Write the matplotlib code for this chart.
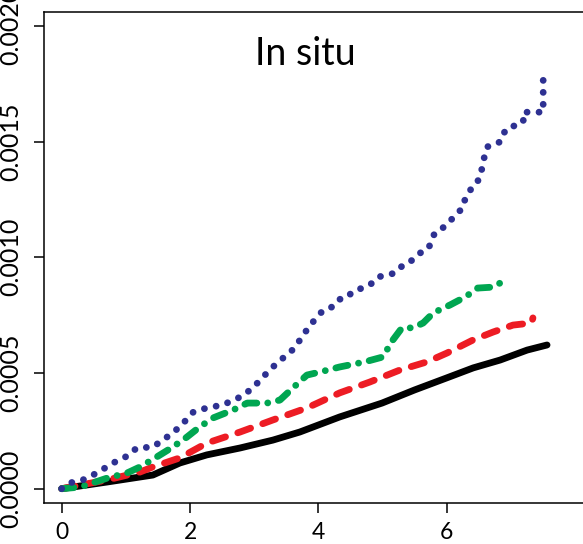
import numpy as np
import matplotlib
matplotlib.use("Agg")
from matplotlib import pyplot as plt

# Data (y values in units of 1e-4)
black_x = [0, 0.71, 1.42, 1.84, 2.26, 2.78, 3.29, 3.71, 4.33, 4.99, 5.50, 5.99, 6.41, 6.83, 7.25, 7.56]
black_y = [0, 0.29, 0.59, 1.11, 1.46, 1.76, 2.10, 2.45, 3.10, 3.70, 4.27, 4.78, 5.22, 5.56, 5.99, 6.21]

red_x = [0, 0.71, 1.22, 1.42, 1.84, 2.26, 2.78, 3.29, 3.82, 4.33, 4.80, 5.27, 5.69, 6.00,
         6.41, 6.72, 7.03, 7.32, 7.34]
red_y = [0, 0.38, 0.72, 0.94, 1.33, 1.97, 2.45, 2.97, 3.49, 4.14, 4.61, 5.13, 5.48, 5.86,
         6.43, 6.77, 7.07, 7.16, 7.38]

green_x = [0, 0.29, 0.71, 1.02, 1.22, 1.48, 1.73, 1.95, 2.15, 2.36, 2.67, 2.89, 3.20, 3.40,
           3.60, 3.82, 4.02, 4.33, 4.72, 5.00, 5.16, 5.30, 5.47, 5.63, 5.79, 6.05, 6.20,
           6.33, 6.48, 6.72, 6.83]
green_y = [0, 0.07, 0.46, 0.68, 0.94, 1.37, 1.80, 2.23, 2.67, 3.06, 3.40, 3.70, 3.70, 3.83,
           4.35, 4.91, 5.04, 5.26, 5.48, 5.69, 6.43, 6.95, 6.95, 7.16, 7.60, 7.94, 8.16,
           8.37, 8.67, 8.71, 8.89]

blue_x = [0, 0.13, 0.33, 0.55, 0.80, 1.02, 1.17, 1.42, 1.64, 1.84, 2.05, 2.26, 2.51, 2.78,
          2.98, 3.09, 3.29, 3.45, 3.63, 3.76, 3.90, 4.05, 4.18, 4.30, 4.46, 4.52, 4.68,
          4.80, 4.93, 5.08, 5.19, 5.35, 5.47, 5.58, 5.71, 5.81, 5.89, 6.00, 6.08, 6.16,
          6.24, 6.28, 6.41, 6.47, 6.52, 6.55, 6.59, 6.63, 6.72, 6.83, 6.87, 6.94, 7.09,
          7.19, 7.19, 7.50, 7.50]
blue_y = [0, 0.25, 0.38, 0.68, 1.11, 1.41, 1.76, 1.80, 2.23, 2.67, 3.31, 3.49, 3.62, 3.96,
          4.35, 4.70, 5.26, 5.65, 6.08, 6.64, 7.16, 7.64, 7.77, 8.16, 8.28, 8.50, 8.67,
          8.80, 9.15, 9.24, 9.32, 9.75, 9.88, 10.18, 10.36, 11.05, 11.18, 11.40, 11.66, 11.92,
          12.09, 12.48, 13.12, 13.25, 13.47, 13.90, 14.42, 14.77, 14.90, 14.98, 15.29, 15.59, 15.71,
          15.84, 16.27, 16.27, 17.96]

x_ticks = [0, 2, 4, 6]
y_ticks = [0, 0.0005, 0.0010, 0.0015, 0.0020]
y_labels = ["0.0000", "0.0005", "0.0010", "0.0015", "0.0020"]

scale = 1e-4

plt.rcParams['font.family'] = ['Lato', 'DejaVu Sans']

fig = plt.figure(figsize=(5.83, 5.44), dpi=100)
ax = fig.add_axes([43.5 / 583, 40.7 / 544, (583 - 43.5) / 583, 491.8 / 544])

lw = 4.9
ax.plot(black_x, np.array(black_y) * scale, color="black", linewidth=lw,
        solid_capstyle="round", solid_joinstyle="round")
ax.plot(red_x, np.array(red_y) * scale, color="#ED1C24", linewidth=lw,
        linestyle=(0, (2.0, 1.9)), dash_capstyle="round", dash_joinstyle="round")
ax.plot(green_x, np.array(green_y) * scale, color="#00A651", linewidth=lw,
        linestyle=(0, (1.8, 1.6, 0.01, 1.6)), dash_capstyle="round", dash_joinstyle="round")
ax.plot(blue_x, np.array(blue_y) * scale, color="#2E3192", linewidth=lw,
        linestyle=(0, (0.01, 1.75)), dash_capstyle="round", dash_joinstyle="round")

ax.set_xlim(-0.283, 8.12)
ax.set_ylim(-0.0000631, 0.002062)

# Box: no right side visible
ax.spines["right"].set_visible(False)
for s in ["left", "top", "bottom"]:
    ax.spines[s].set_linewidth(1.1)

ax.set_xticks(x_ticks)
ax.set_xticklabels([str(t) for t in x_ticks], fontsize=16.5)
ax.set_yticks(y_ticks)
ax.set_yticklabels(y_labels, rotation=90, va="center", fontsize=18)

ax.tick_params(axis="both", direction="out", length=7.5, width=1.1)
ax.tick_params(axis="x", pad=6)
ax.tick_params(axis="y", pad=8)

ax.text(3.8, 0.00188, "In situ", fontsize=27, ha="center", va="center")

fig.savefig("out.png", dpi=100)
